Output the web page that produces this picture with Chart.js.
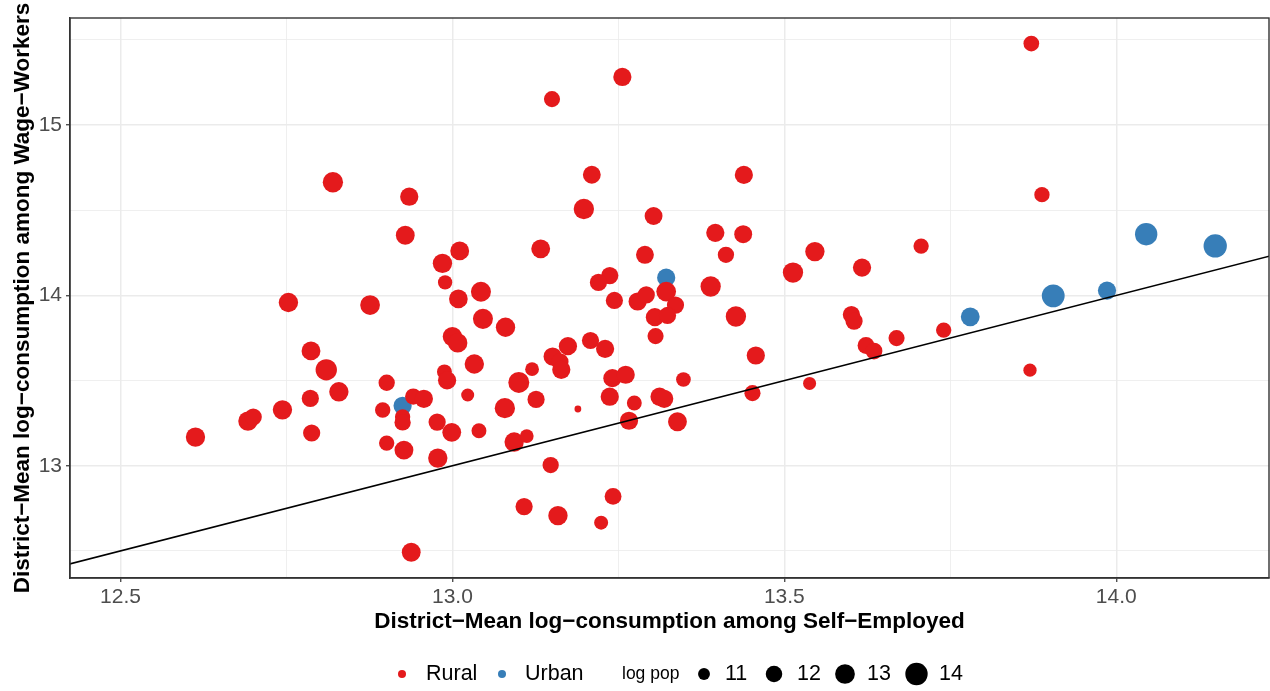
<!DOCTYPE html>
<html>
<head>
<meta charset="utf-8">
<script src="https://cdn.jsdelivr.net/npm/chart.js@4.4.1/dist/chart.umd.min.js"></script>
<style>
html,body{margin:0;padding:0;background:#ffffff;}
#wrap{width:1270px;height:691px;position:relative;}
</style>
</head>
<body>
<div id="wrap"><canvas id="c" width="1270" height="691"></canvas></div>
<script>
// ---------------- DATA ----------------
const ruralX = [13.872,13.256,13.150,12.820,12.935,13.210,13.439,13.888,13.198,13.303,
  12.929,13.011,13.133,13.396,13.438,13.290,13.412,13.546,13.706,13.617,
  13.513,12.985,12.989,13.237,13.220,13.322,13.389,13.009,13.043,13.244,
  13.279,13.292,13.336,13.305,13.324,12.753,12.876,13.046,13.080,13.000,
  13.008,13.306,13.208,13.230,13.174,13.151,13.162,13.164,13.427,13.601,
  13.605,13.623,13.635,13.669,13.740,13.457,13.870,13.538,13.452,13.348,
  12.787,12.810,12.829,12.901,12.786,12.744,12.692,12.700,12.613,12.788,
  12.895,12.925,12.925,12.941,12.957,12.901,12.927,12.977,12.999,12.978,
  12.988,12.992,13.033,13.023,13.040,13.100,13.120,13.126,13.079,13.093,
  13.112,13.148,13.108,13.159,13.224,13.242,12.938,13.189,13.237,13.241,
  13.261,13.274,13.266,13.312,13.319,13.339];
const ruralY = [15.478,15.282,15.152,14.664,14.579,14.708,14.707,14.591,14.507,14.466,
  14.353,14.261,14.273,14.367,14.359,14.238,14.238,14.257,14.289,14.163,
  14.134,14.188,14.076,14.116,14.076,14.022,14.052,13.979,14.021,13.970,
  13.964,14.003,13.943,13.872,13.882,13.958,13.943,13.862,13.813,13.758,
  13.721,13.761,13.735,13.686,13.702,13.641,13.610,13.563,13.876,13.887,
  13.849,13.706,13.673,13.749,13.796,13.647,13.561,13.483,13.426,13.506,
  13.674,13.563,13.434,13.487,13.395,13.328,13.262,13.286,13.168,13.192,
  13.327,13.286,13.254,13.406,13.393,13.133,13.092,13.256,13.196,13.045,
  13.551,13.501,13.597,13.415,13.205,13.489,13.567,13.389,13.338,13.139,
  13.174,13.004,12.760,12.707,12.666,12.820,12.492,13.333,13.405,13.514,
  13.534,13.368,13.264,13.405,13.393,13.258];
const ruralLogPop = [11.8,12.5,11.9,13.2,12.5,12.4,12.5,11.7,13.2,12.4,
  12.7,12.7,12.7,12.5,12.4,12.4,11.95,12.87,11.7,12.5,
  13.2,12.87,11.46,12.2,12.2,13.0,13.2,12.65,13.1,12.2,
  12.5,12.2,12.2,12.5,12.2,12.87,13.0,13.1,12.87,12.87,
  12.87,11.9,12.2,12.5,12.5,12.5,12.2,12.5,13.2,12.2,
  12.2,12.1,12.1,11.9,11.7,12.5,11.25,11.2,11.9,11.55,
  12.7,13.6,12.87,11.95,12.2,12.87,12.87,12.2,12.87,12.2,
  11.7,11.7,11.95,11.95,12.5,11.7,12.7,12.2,12.7,12.87,
  11.6,12.5,12.87,11.2,11.6,13.45,11.35,12.2,13.2,12.87,
  11.35,11.95,12.2,12.87,11.4,12.1,12.7,10.5,12.5,12.5,
  12.5,11.6,12.5,12.5,12.5,12.7];

const urbanX = [13.322,13.780,13.905,13.986,14.045,14.149,12.925];
const urbanY = [14.104,13.874,13.997,14.028,14.359,14.290,13.352];
const urbanLogPop = [12.5,12.7,14.2,12.5,14.0,14.4,12.5];

const xMajorTicks = [12.5, 13.0, 13.5, 14.0];
const xMinorTicks = [12.75, 13.25, 13.75];
const yMajorTicks = [13, 14, 15];
const yMinorTicks = [12.5, 13.5, 14.5, 15.5];
const xRange = [12.424, 14.230];
const yRange = [12.341, 15.628];
const refLine = [12.3, 14.4];            // 45-degree line y = x
const sizeLegendValues = [11, 12, 13, 14];
const logPopRange = [10.47, 14.44];

const xTitle = 'District\u2212Mean log\u2212consumption among Self\u2212Employed';
const yTitle = 'District\u2212Mean log\u2212consumption among Wage\u2212Workers';
const colorRural = '#E41A1C';
const colorUrban = '#377EB8';
const FONT = '"Liberation Sans", Arial, Helvetica, sans-serif';

// ---------------- HELPERS ----------------
function radiusOf(lp) {
  const t = Math.max(0, (lp - logPopRange[0]) / (logPopRange[1] - logPopRange[0]));
  return 2.6 + 9.1 * Math.sqrt(t);
}
const isMajor = (arr, v) => arr.some(m => Math.abs(m - v) < 1e-6);

const decorPlugin = {
  id: 'decor',
  beforeDraw(chart) {
    const ctx = chart.ctx;
    ctx.save();
    ctx.fillStyle = '#ffffff';
    ctx.fillRect(0, 0, chart.width, chart.height);
    ctx.restore();
  },
  afterDraw(chart) {
    const ctx = chart.ctx;
    const a = chart.chartArea;
    ctx.save();
    // panel border
    ctx.strokeStyle = '#333333';
    ctx.lineWidth = 1.4;
    ctx.strokeRect(a.left, a.top, a.right - a.left, a.bottom - a.top);

    // y title
    ctx.fillStyle = '#000000';
    ctx.font = 'bold 22.5px ' + FONT;
    ctx.textAlign = 'center';
    ctx.textBaseline = 'alphabetic';
    ctx.save();
    ctx.translate(28.5, (a.top + a.bottom) / 2);
    ctx.rotate(-Math.PI / 2);
    ctx.fillText(yTitle, 0, 0);
    ctx.restore();

    // legend
    const ly = 674;
    ctx.textBaseline = 'middle';
    ctx.textAlign = 'left';
    ctx.font = '21.5px ' + FONT;
    ctx.fillStyle = colorRural;
    ctx.beginPath(); ctx.arc(402, ly, 4, 0, Math.PI * 2); ctx.fill();
    ctx.fillStyle = '#000';
    ctx.fillText('Rural', 426, ly);
    ctx.fillStyle = colorUrban;
    ctx.beginPath(); ctx.arc(502, ly, 4, 0, Math.PI * 2); ctx.fill();
    ctx.fillStyle = '#000';
    ctx.fillText('Urban', 525, ly);
    ctx.font = '17.5px ' + FONT;
    ctx.fillText('log pop', 622, ly);
    ctx.font = '21.5px ' + FONT;
    const cx = [704, 774, 845, 916.5];
    const tx = [725, 797, 867, 939];
    sizeLegendValues.forEach((v, i) => {
      ctx.fillStyle = '#000';
      ctx.beginPath(); ctx.arc(cx[i], ly, radiusOf(v), 0, Math.PI * 2); ctx.fill();
      ctx.fillText(String(v), tx[i], ly);
    });
    ctx.restore();
  }
};

const gridColor = '#EBEBEB';

new Chart(document.getElementById('c'), {
  data: {
    datasets: [
      {
        type: 'line',
        label: '45-degree',
        data: refLine.map(v => ({x: v, y: v})),
        borderColor: '#000000',
        borderWidth: 1.5,
        pointRadius: 0,
        fill: false,
        order: 0
      },
      {
        type: 'scatter',
        label: 'Rural',
        data: ruralX.map((x, i) => ({x: x, y: ruralY[i]})),
        backgroundColor: colorRural,
        borderColor: colorRural,
        borderWidth: 0,
        pointRadius: ctx => radiusOf(ruralLogPop[ctx.dataIndex]),
        pointHoverRadius: ctx => radiusOf(ruralLogPop[ctx.dataIndex]),
        order: 1
      },
      {
        type: 'scatter',
        label: 'Urban',
        data: urbanX.map((x, i) => ({x: x, y: urbanY[i]})),
        backgroundColor: colorUrban,
        borderColor: colorUrban,
        borderWidth: 0,
        pointRadius: ctx => radiusOf(urbanLogPop[ctx.dataIndex]),
        pointHoverRadius: ctx => radiusOf(urbanLogPop[ctx.dataIndex]),
        order: 2
      }
    ]
  },
  options: {
    responsive: false,
    animation: false,
    devicePixelRatio: 1,
    layout: {autoPadding: false, padding: {top: 18, right: 1, left: 0, bottom: 0}},
    plugins: {legend: {display: false}, tooltip: {enabled: false}},
    scales: {
      x: {
        type: 'linear',
        min: xRange[0],
        max: xRange[1],
        afterBuildTicks: s => { s.ticks = [...xMajorTicks, ...xMinorTicks].sort((a, b) => a - b).map(v => ({value: v})); },
        afterFit: s => { s.height = 113; },
        ticks: {
          callback: v => isMajor(xMajorTicks, v) ? v.toFixed(1) : '',
          font: {family: FONT, size: 21},
          color: '#4D4D4D',
          padding: 3,
          maxRotation: 0,
          autoSkip: false
        },
        grid: {
          color: gridColor,
          lineWidth: c => (c.tick && isMajor(xMajorTicks, c.tick.value)) ? 1.5 : 0.8,
          tickColor: c => (c.tick && isMajor(xMajorTicks, c.tick.value)) ? '#333333' : 'rgba(0,0,0,0)',
          tickLength: 4,
          tickWidth: 1.2,
          drawTicks: true
        },
        border: {display: true, color: '#333333', width: 1.4},
        title: {
          display: true,
          text: xTitle,
          color: '#000000',
          font: {family: FONT, size: 22.5, weight: 'bold'},
          padding: {top: 0, bottom: 56}
        }
      },
      y: {
        type: 'linear',
        min: yRange[0],
        max: yRange[1],
        afterBuildTicks: s => { s.ticks = [...yMajorTicks, ...yMinorTicks].sort((a, b) => a - b).map(v => ({value: v})); },
        afterFit: s => { s.width = 70; },
        ticks: {
          callback: v => isMajor(yMajorTicks, v) ? v.toFixed(0) : '',
          font: {family: FONT, size: 21},
          color: '#4D4D4D',
          padding: 4,
          autoSkip: false
        },
        grid: {
          color: gridColor,
          lineWidth: c => (c.tick && isMajor(yMajorTicks, c.tick.value)) ? 1.5 : 0.8,
          tickColor: c => (c.tick && isMajor(yMajorTicks, c.tick.value)) ? '#333333' : 'rgba(0,0,0,0)',
          tickLength: 4,
          tickWidth: 1.2,
          drawTicks: true
        },
        border: {display: true, color: '#333333', width: 1.4},
        title: {display: false}
      }
    }
  },
  plugins: [decorPlugin]
});
</script>
</body>
</html>
